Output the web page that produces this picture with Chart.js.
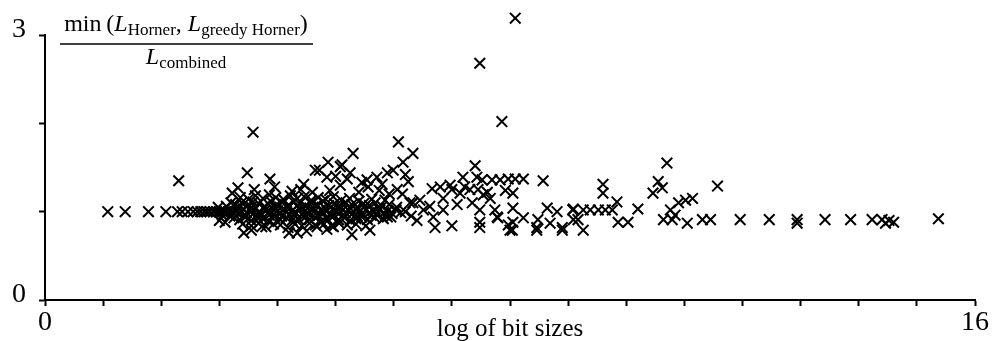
<!DOCTYPE html>
<html>
<head>
<meta charset="utf-8">
<script src="https://cdn.jsdelivr.net/npm/chart.js@4.4.0/dist/chart.umd.min.js"></script>
<style>
html, body { margin: 0; padding: 0; background: #fff; }
#wrap { width: 1003px; height: 341px; position: relative; }
</style>
</head>
<body>
<div id="wrap"><canvas id="myGraph"></canvas></div>
<script>
// axis ranges and which ticks get a printed label
var xRange = [0, 16];
var yRange = [0, 3];
var xLabelTicks = [0, 16];
var yLabelTicks = [0, 3];
var xTitle = "log of bit sizes";

// [log of bit size, ratio]
var samples = [
  // sparse run on the left, all at 1
  [1.08,1.00],[1.38,1.00],[1.78,1.00],[2.08,1.00],[2.28,1.00],[2.36,1.00],[2.46,1.00],[2.55,1.00],
  [2.62,1.00],[2.68,1.00],[2.74,1.00],[2.79,1.00],[2.84,1.00],[2.90,1.00],[2.95,1.00],[3.00,1.00],
  [3.05,1.00],[3.10,1.00],[3.16,1.00],[3.22,1.00],[3.28,1.00],
  [2.30,1.35],[3.58,1.90],
  [2.98,1.05],[3.05,0.96],[3.12,1.06],[3.18,0.95],[3.20,1.10],
  // main cluster
  [3.30,1.01],[3.36,0.98],[3.41,1.03],[3.47,0.99],[3.52,1.02],[3.57,0.97],[3.63,1.04],[3.68,1.00],
  [3.73,0.96],[3.79,1.02],[3.84,0.99],[3.89,1.05],[3.94,0.97],[4.00,1.01],[4.05,0.98],[4.10,1.03],
  [4.16,1.00],[4.21,0.96],[4.26,1.02],[4.31,0.99],[4.37,1.04],[4.42,0.97],[4.47,1.01],[4.53,0.98],
  [4.58,1.03],[4.63,1.00],[4.69,0.96],[4.74,1.02],[4.79,0.99],[4.85,1.01],[4.90,0.97],[4.95,1.03],
  [5.01,1.00],[5.06,0.98],[5.12,1.02],[5.17,0.99],[5.23,1.01],[5.28,0.97],[5.34,1.03],[5.40,1.00],
  [5.46,0.98],[5.52,1.02],[5.58,0.99],[5.64,1.01],[5.70,0.97],[5.76,1.02],[5.83,0.99],[5.90,1.01],
  [5.97,0.98],[6.04,1.02],[6.12,0.99],[6.20,1.00],
  [3.33,1.04],[3.44,0.96],[3.55,1.05],[3.66,0.95],[3.77,1.04],[3.86,0.96],[3.97,1.04],[4.07,0.95],
  [4.19,1.05],[4.29,0.96],[4.40,1.04],[4.50,0.95],[4.61,1.05],[4.71,0.96],[4.82,1.04],[4.92,0.95],
  [5.03,1.05],[5.14,0.96],[5.25,1.04],[5.37,0.95],[5.49,1.05],[5.61,0.96],[5.73,1.04],[5.86,0.96],
  [3.28,1.08],[3.38,1.10],[3.48,1.07],[3.58,1.11],[3.68,1.09],[3.78,1.06],[3.88,1.12],[3.98,1.08],
  [4.08,1.10],[4.18,1.07],[4.28,1.11],[4.38,1.09],[4.48,1.06],[4.58,1.10],[4.68,1.08],[4.78,1.12],
  [4.88,1.07],[4.98,1.09],[5.08,1.06],[5.18,1.10],[5.28,1.08],[5.38,1.05],[5.48,1.09],[5.58,1.07],
  [5.68,1.10],[5.80,1.06],[5.92,1.08],[6.05,1.05],
  [3.36,1.16],[3.50,1.14],[3.62,1.18],[3.75,1.15],[3.86,1.19],[3.97,1.16],[4.10,1.14],[4.22,1.18],
  [4.34,1.15],[4.46,1.17],[4.58,1.13],[4.70,1.16],[4.83,1.14],[4.96,1.17],[5.10,1.13],[5.24,1.15],
  [5.40,1.12],[5.62,1.14],[5.85,1.13],
  [3.25,0.93],[3.35,0.91],[3.45,0.94],[3.55,0.90],[3.65,0.93],[3.75,0.92],[3.85,0.89],[3.95,0.94],
  [4.05,0.91],[4.15,0.93],[4.25,0.90],[4.35,0.92],[4.45,0.95],[4.55,0.91],[4.65,0.93],[4.75,0.89],
  [4.85,0.92],[4.95,0.94],[5.05,0.91],[5.15,0.93],[5.25,0.90],[5.35,0.92],[5.45,0.94],[5.55,0.91],
  [5.68,0.93],[5.82,0.92],[5.95,0.94],
  [3.40,0.86],[3.55,0.84],[3.68,0.87],[3.80,0.83],[3.93,0.86],[4.05,0.85],[4.18,0.82],[4.30,0.86],
  [4.42,0.84],[4.55,0.87],[4.68,0.83],[4.80,0.86],[4.93,0.84],[5.06,0.87],[5.20,0.85],[5.35,0.86],
  [5.52,0.84],
  // below the cluster
  [3.42,0.76],[3.55,0.79],[4.20,0.76],[4.34,0.76],[3.73,0.83],[4.65,0.85],[4.96,0.83],[5.28,0.74],
  [5.59,0.79],[4.85,0.80],[5.89,0.94],[4.50,0.78],[3.10,0.88],[3.00,0.90],
  // above the cluster
  [3.48,1.44],[3.87,1.37],[3.32,1.27],[3.22,1.21],[4.65,1.47],[4.72,1.47],[4.85,1.39],[4.87,1.56],
  [5.08,1.51],[5.11,1.53],[5.30,1.66],[5.20,1.37],[5.25,1.44],[5.54,1.36],[5.71,1.39],[5.89,1.44],
  [5.99,1.47],[6.16,1.56],[6.33,1.66],[6.08,1.79],[6.25,1.34],[5.56,1.28],[5.08,1.30],[6.06,1.25],
  [6.28,1.10],[4.40,1.25],[4.60,1.22],[4.90,1.24],[5.40,1.22],[5.75,1.24],[3.60,1.25],[3.95,1.28],
  [4.25,1.23],[5.92,1.20],[6.15,1.20],[4.45,1.31],[5.00,1.40],[5.45,1.33],[5.80,1.31],[6.20,1.42],
  // middle stretch
  [6.33,1.10],[6.51,1.02],[6.68,0.94],[6.71,0.82],[6.30,0.95],[6.40,0.90],[6.45,1.13],[6.62,1.06],
  [7.40,1.52],[7.19,1.39],[7.43,1.39],[7.52,1.36],[7.69,1.36],[7.83,1.36],[7.97,1.37],[8.09,1.37],
  [8.23,1.37],[8.57,1.35],[6.66,1.26],[6.80,1.28],[6.97,1.30],[6.85,1.15],[7.00,1.25],[7.14,1.21],
  [7.31,1.25],[7.45,1.25],[7.61,1.22],[7.66,1.15],[7.54,1.19],[8.05,1.21],[7.09,1.08],[6.85,1.02],
  [7.00,0.84],[7.48,1.02],[7.48,0.88],[7.48,0.82],[7.74,1.02],[7.79,0.93],[8.05,1.04],[8.05,0.88],
  [7.97,0.85],[8.00,0.79],[8.23,0.93],[8.48,0.91],[8.64,1.04],[8.81,1.00],[8.46,0.82],[8.69,0.87],
  [8.90,0.82],[9.08,1.02],[9.17,0.91],[8.46,0.79],[8.90,0.79],[9.26,0.79],[7.78,0.94],[8.04,0.79],
  [7.22,1.28],[7.92,1.24],[7.35,1.10],
  // spikes
  [8.09,3.19],[7.48,2.68],[7.86,2.02],
  // right side
  [10.70,1.55],[9.60,1.31],[9.60,1.21],[10.55,1.34],[10.62,1.27],[10.46,1.21],[11.57,1.29],[9.84,1.11],
  [10.20,1.03],[9.09,1.03],[9.26,1.02],[9.38,1.02],[9.52,1.02],[9.64,1.02],[9.76,1.02],[9.09,0.91],
  [9.86,0.88],[10.03,0.88],[10.76,1.02],[10.90,1.10],[11.02,1.13],[11.14,1.15],[10.84,0.96],
  [10.64,0.91],[10.79,0.91],[11.05,0.87],[11.31,0.91],[11.45,0.91],
  [11.96,0.91],[12.46,0.91],[12.94,0.91],[12.94,0.87],[13.42,0.91],[13.86,0.91],[14.23,0.91],
  [14.40,0.91],[14.46,0.87],[14.52,0.90],[14.60,0.88],[15.37,0.92]
];

document.addEventListener("DOMContentLoaded", function(){
  makeChart();
});

// points above y = 3 still have to be drawn, so widen the area while datasets draw
var wholeCanvas = {
  id: "wholeCanvas",
  beforeDatasetsDraw: function(chart){
    chart._keptArea = chart.chartArea;
    chart.chartArea = { left: 0, top: 0, right: chart.width, bottom: chart.height, width: chart.width, height: chart.height };
  },
  afterDatasetsDraw: function(chart){
    chart.chartArea = chart._keptArea;
  }
};

// the stacked fraction in the top left corner
var fractionTitle = {
  id: "fractionTitle",
  afterDraw: function(chart){
    var ctx = chart.ctx;
    var fam = "'Liberation Serif', serif";
    var big = "24px " + fam, bigIt = "italic 24px " + fam, small = "17px " + fam;
    var top = [
      { t: "min\u2009(", f: big, dy: 0 },
      { t: "L", f: bigIt, dy: 0 },
      { t: "Horner", f: small, dy: 4 },
      { t: ", ", f: big, dy: 0 },
      { t: "L", f: bigIt, dy: 0 },
      { t: "greedy Horner", f: small, dy: 4 },
      { t: ")", f: big, dy: 0 }
    ];
    var bottom = [
      { t: "L", f: bigIt, dy: 0 },
      { t: "combined", f: small, dy: 4 }
    ];
    var cx = 186;

    function rowWidth(parts){
      var w = 0;
      parts.forEach(function(p){ ctx.font = p.f; w += ctx.measureText(p.t).width; });
      return w;
    }
    function drawRow(parts, y){
      var x = cx - rowWidth(parts) / 2;
      parts.forEach(function(p){
        ctx.font = p.f;
        ctx.fillText(p.t, x, y + p.dy);
        x += ctx.measureText(p.t).width;
      });
    }

    ctx.save();
    ctx.fillStyle = "#000";
    ctx.textBaseline = "alphabetic";
    ctx.textAlign = "left";
    drawRow(top, 31);
    drawRow(bottom, 64);
    ctx.strokeStyle = "#000";
    ctx.lineWidth = 1.3;
    ctx.beginPath();
    ctx.moveTo(60, 44);
    ctx.lineTo(313, 44);
    ctx.stroke();
    ctx.restore();
  }
};

function makeChart(){
  let target = document.getElementById("myGraph");
  var tickFont = { family: "Liberation Serif", size: 28 };

  new Chart(target, {
    type: "scatter",
    data: {
      datasets: [{
        data: samples.map(function(p){ return { x: p[0], y: p[1] }; }),
        pointStyle: "crossRot",
        radius: 7.5,
        hoverRadius: 7.5,
        borderWidth: 2,
        borderColor: "#000",
        backgroundColor: "#000",
        clip: false
      }]
    },
    options: {
      responsive: true,
      maintainAspectRatio: false,
      animation: false,
      events: [],
      layout: { padding: { top: 35, right: 28, left: 0, bottom: 0 } },
      plugins: {
        legend: { display: false },
        tooltip: { enabled: false }
      },
      scales: {
        x: {
          type: "linear",
          position: "bottom",
          min: xRange[0],
          max: xRange[1],
          afterFit: function(s){ s.height = 41; },
          border: { display: true, color: "#000", width: 2 },
          grid: { drawOnChartArea: false, drawTicks: true, tickLength: 6, tickWidth: 2, tickColor: "#000" },
          ticks: {
            stepSize: 1, autoSkip: false, maxRotation: 0, color: "#000", font: tickFont, padding: 0,
            callback: function(v){ return xLabelTicks.indexOf(v) >= 0 ? String(v) : ""; }
          },
          title: {
            display: true, text: xTitle, color: "#000",
            font: { family: "Liberation Serif", size: 25 },
            padding: { top: 0, bottom: -3 }
          }
        },
        y: {
          type: "linear",
          min: yRange[0],
          max: yRange[1],
          afterFit: function(s){ s.width = 45; },
          border: { display: true, color: "#000", width: 2 },
          grid: { drawOnChartArea: false, drawTicks: true, tickLength: 6, tickWidth: 2, tickColor: "#000" },
          ticks: {
            stepSize: 1, autoSkip: false, color: "#000", font: tickFont, padding: 13, labelOffset: -5,
            callback: function(v){ return yLabelTicks.indexOf(v) >= 0 ? String(v) : ""; }
          }
        }
      }
    },
    plugins: [wholeCanvas, fractionTitle]
  });
}
</script>
</body>
</html>
